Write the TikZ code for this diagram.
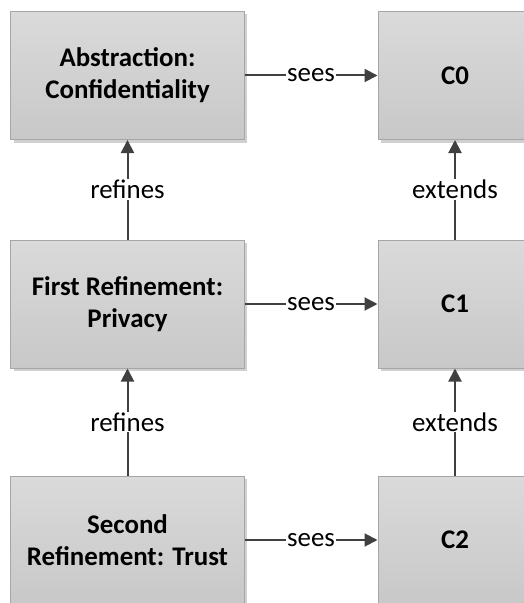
\documentclass[tikz,border=0pt]{standalone}
\usepackage{fontspec}
\setmainfont{Carlito}
\usetikzlibrary{shadows,arrows.meta}
\definecolor{boxborder}{HTML}{A6A6A6}
\definecolor{boxtop}{HTML}{DADADA}
\definecolor{boxbot}{HTML}{C8C8C8}
\definecolor{linecol}{HTML}{404040}
\tikzset{
  blockbox/.style={draw=boxborder, line width=1bp, top color=boxtop, bottom color=boxbot,
    drop shadow={shadow xshift=3bp, shadow yshift=-3bp, fill=black!30, opacity=0.6},
    align=center, font=\fontsize{27}{32}\selectfont\bfseries, inner sep=0pt},
  leftbox/.style={blockbox, minimum width=233bp, minimum height=128bp},
  rightbox/.style={blockbox, minimum width=154bp, minimum height=128bp},
  conn/.style={draw=linecol, line width=2bp, -{Triangle[length=13bp,width=13bp]}},
  lbl/.style={fill=white, font=\fontsize{27}{30}\selectfont, inner sep=1bp, text=black}
}
\begin{document}
\begin{tikzpicture}[x=1bp,y=-1bp]
\useasboundingbox (0,0) rectangle (524,603);
\clip (0,0) rectangle (524,603);
\fill[white] (0,0) rectangle (524,603);
\node[leftbox] (abs) at (127.5,75.5) {Abstraction:\\Confidentiality};
\node[leftbox] (first) at (127.5,304) {First Refinement:\\Privacy};
\node[leftbox] (second) at (127.5,540) {Second\\Refinement: Trust};
\node[rightbox] (c0) at (455,75.5) {C0};
\node[rightbox] (c1) at (455,304) {C1};
\node[rightbox] (c2) at (455,540) {C2};
\draw[conn] (abs) -- node[lbl] {sees} (c0);
\draw[conn] (first) -- node[lbl] {sees} (c1);
\draw[conn] (second) -- node[lbl] {sees} (c2);
\draw[conn] (first) -- node[lbl] {refines} (abs);
\draw[conn] (second) -- node[lbl] {refines} (first);
\draw[conn] (c1) -- node[lbl] {extends} (c0);
\draw[conn] (c2) -- node[lbl] {extends} (c1);
\end{tikzpicture}
\end{document}
